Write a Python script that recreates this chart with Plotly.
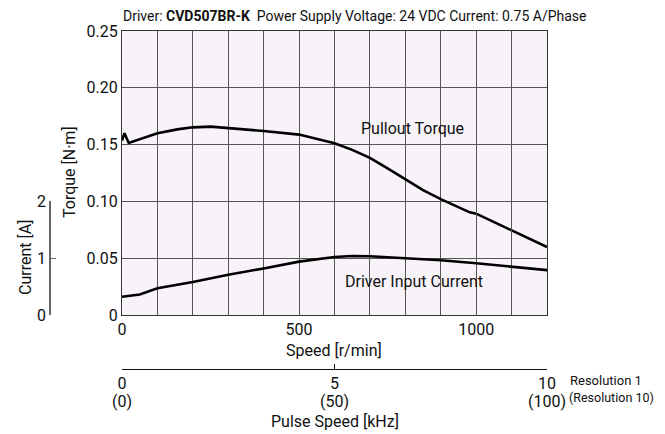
import plotly.graph_objects as go

# ---- data ----
torque_speed = [0, 7, 19, 60, 100, 156, 200, 250, 300, 361, 400, 500, 600, 650, 700, 750, 800, 850, 900, 982, 1000, 1100, 1200]
torque_nm = [0.1535, 0.160, 0.1515, 0.1555, 0.160, 0.1634, 0.1652, 0.1658, 0.1646, 0.1629, 0.162, 0.1588, 0.1511, 0.1454,
             0.1383, 0.129, 0.1193, 0.110, 0.102, 0.0904, 0.0892, 0.0746, 0.0599]
current_speed = [0, 50, 100, 200, 300, 361, 400, 500, 600, 650, 700, 800, 900, 1000, 1100, 1200]
current_a = [0.32, 0.36, 0.47, 0.58, 0.71, 0.77, 0.82, 0.94, 1.02, 1.04, 1.035, 1.0, 0.965, 0.91, 0.85, 0.79]

speed_ticks = list(range(0, 1201, 100))
speed_labels = ["0" if v == 0 else "500" if v == 500 else "1000" if v == 1000 else "" for v in speed_ticks]
torque_ticks = [0, 0.05, 0.10, 0.15, 0.20, 0.25]
torque_labels = ["0", "0.05", "0.10", "0.15", "0.20", "0.25"]
current_ticks = [0, 1, 2]
pulse_ticks = [0, 5, 10]
pulse_labels = ["0", "5", "10"]
pulse_labels_res10 = ["(0)", "(50)", "(100)"]

FONT = "Roboto, Liberation Sans, sans-serif"
W, H = 665, 434
ML, MR, MT, MB = 10, 10, 31, 10
PW, PH = W - ML - MR, H - MT - MB


def px(x):
    return (x - ML) / PW


def py(y):
    return (H - MB - y) / PH


x0, x1, y0, y1 = 122, 547, 315, 31
ydom = [py(y0), py(y1)]
cur_top = ydom[0] + (ydom[1] - ydom[0]) * 2 / 5

fig = go.Figure()
fig.add_trace(go.Scatter(x=torque_speed, y=torque_nm, mode="lines", line=dict(color="black", width=2.6),
                         xaxis="x", yaxis="y", showlegend=False, hoverinfo="skip"))
fig.add_trace(go.Scatter(x=current_speed, y=current_a, mode="lines", line=dict(color="black", width=2.6),
                         xaxis="x", yaxis="y2", showlegend=False, hoverinfo="skip"))
fig.add_trace(go.Scatter(x=pulse_ticks, y=[None] * 3, mode="lines", xaxis="x2", yaxis="y",
                         showlegend=False, hoverinfo="skip"))
fig.add_trace(go.Scatter(x=pulse_ticks, y=[None] * 3, mode="lines", xaxis="x3", yaxis="y",
                         showlegend=False, hoverinfo="skip"))

grid = "#555555"
fig.update_layout(
    width=W, height=H,
    margin=dict(l=ML, r=MR, t=MT, b=MB, autoexpand=False),
    paper_bgcolor="white", plot_bgcolor="rgba(0,0,0,0)",
    font=dict(family=FONT, size=16, color="#111"),
    xaxis=dict(domain=[px(x0), px(x1)], range=[0, 1200], tickvals=speed_ticks, ticktext=speed_labels,
               showgrid=True, gridcolor=grid, gridwidth=1, ticks="", showline=True, linecolor="#333",
               mirror=True, zeroline=False, anchor="y", tickfont=dict(size=16), automargin=False),
    yaxis=dict(domain=ydom, range=[0, 0.25], tickvals=torque_ticks, ticktext=torque_labels,
               showgrid=True, gridcolor=grid, gridwidth=1, ticks="", showline=True, linecolor="#333",
               mirror=True, zeroline=False, anchor="x", tickfont=dict(size=16), automargin=False),
    yaxis2=dict(domain=[ydom[0], cur_top], range=[0, 2], tickvals=current_ticks, anchor="free",
                position=px(50), side="left", showgrid=False, zeroline=False, showline=True,
                linecolor="#666", linewidth=1.5, ticks="inside", ticklen=5, tickcolor="#666",
                tickfont=dict(size=16), automargin=False),
    xaxis2=dict(overlaying="x", anchor="free", position=py(369), side="bottom", range=[0, 10],
                tickvals=pulse_ticks, ticktext=pulse_labels, showgrid=False, zeroline=False,
                showline=True, linecolor="#111", linewidth=1.2, ticks="inside", ticklen=5,
                tickcolor="#111", tickfont=dict(size=16), automargin=False),
    xaxis3=dict(overlaying="x", anchor="free", position=py(390), side="bottom", range=[0, 10],
                tickvals=pulse_ticks, ticktext=pulse_labels_res10, showgrid=False, zeroline=False,
                showline=False, ticks="", tickfont=dict(size=16), automargin=False),
)

fig.add_shape(type="rect", xref="x domain", yref="y domain", x0=0, x1=1, y0=0, y1=1,
              fillcolor="#F7F3F8", line=dict(width=0), layer="below")

ann = [
    dict(text="Driver: <b>CVD507BR-K</b>  Power Supply Voltage: 24 VDC Current: 0.75 A/Phase",
         x=px(121), y=py(16), xanchor="left", yanchor="middle", size=14),
    dict(text="Speed [r/min]", x=px(334), y=py(350), xanchor="center", yanchor="middle", size=16),
    dict(text="Pulse Speed [kHz]", x=px(335), y=py(421), xanchor="center", yanchor="middle", size=16),
    dict(text="Resolution 1", x=px(606), y=py(380), xanchor="center", yanchor="middle", size=13),
    dict(text="(Resolution 10)", x=px(611), y=py(397), xanchor="center", yanchor="middle", size=12.5),
]
for a in ann:
    fig.add_annotation(text=a["text"], x=a["x"], y=a["y"], xref="paper", yref="paper",
                       xanchor=a["xanchor"], yanchor=a["yanchor"], showarrow=False,
                       font=dict(size=a["size"], family=FONT, color="#111"))

fig.add_annotation(text="Torque [N·m]", x=px(69), y=py(172), xref="paper", yref="paper", textangle=-90,
                   xanchor="center", yanchor="middle",
                   showarrow=False, font=dict(size=16, family=FONT, color="#111"))
fig.add_annotation(text="Current [A]", x=px(25), y=py(258), xref="paper", yref="paper", textangle=-90,
                   xanchor="center", yanchor="middle",
                   showarrow=False, font=dict(size=16, family=FONT, color="#111"))
fig.add_annotation(text="Pullout Torque", x=819, y=0.164, xref="x", yref="y", showarrow=False,
                   font=dict(size=16, family=FONT, color="#111"))
fig.add_annotation(text="Driver Input Current", x=824, y=0.0298, xref="x", yref="y", showarrow=False,
                   font=dict(size=16, family=FONT, color="#111"))

fig.write_html("out.html", config={"displayModeBar": False},
               post_script="document.body.style.margin='0';document.body.style.overflow='hidden';")
